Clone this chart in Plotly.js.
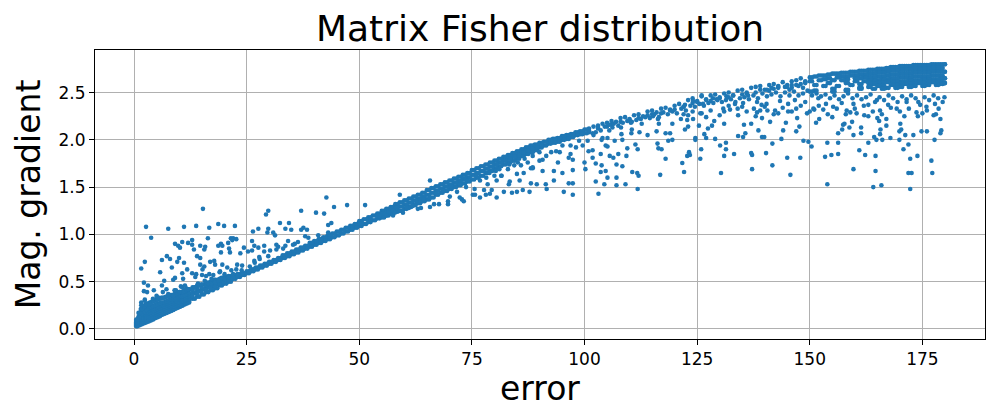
<!DOCTYPE html>
<html>
<head>
<meta charset="utf-8">
<script src="https://cdn.plot.ly/plotly-3.0.1.min.js"></script>
<style>html,body{margin:0;padding:0;background:#fff}</style>
</head>
<body>
<div id="chart" style="width:1000px;height:420px"></div>
<script>
// dense foot of the curve, columns read at half degree steps
const footX = [0.5,1,1.5,2,2.5,3,3.5,4,4.5,5,5.5,6,6.5,7,7.5,8,8.5,9,9.5,10,10.5,11,11.5,12];
const footXb = [0.75,1.25,1.75,2.25,2.75,3.25,3.75,4.25,4.75,5.25,5.75,6.25,6.75,7.25,7.75,8.25,8.75,9.25,9.75,10.25,10.75,11.25,11.75,12.25];
const footLow = [.03,.04,.05,.06,.07,.08,.09,.10,.115,.125,.135,.15,.16,.17,.18,.19,.20,.215,.225,.235,.245,.26,.27,.28];
const footE = [.04,.055,.065,.08,.09,.10,.11,.12,.135,.15,.16,.17,.18,.19,.20,.21,.22,.235,.245,.255,.265,.275,.285,.295];
const footA = [.05,.07,.08,.10,.11,.12,.13,.14,.155,.17,.18,.19,.20,.21,.22,.23,.24,.25,.26,.27,.28,.29,.30,.31];
const footG = [.06,.085,.10,.12,.13,.145,.155,.165,.18,.19,.20,.21,.22,.23,.24,.25,.26,.27,.28,.29,.295,.305,.315,.325];
const footB = [.07,.10,.12,.14,.15,.17,.18,.19,.20,.21,.22,.23,.24,.25,.26,.27,.28,.29,.30,.31,.31,.32,.33,.34];
const footF = [.08,.115,.14,.16,.175,.195,.205,.215,.225,.235,.245,.255,.26,.27,.28,.29,.30,.31,.32,.33,.33,.34,.35,.36];
const footC = [.09,.13,.16,.18,.20,.22,.23,.24,.25,.26,.27,.28,.28,.29,.30,.31,.32,.33,.34,.35,.35,.36,.37,.38];
const footTop = [.10,.17,.21,.24,.26,.27,.28,.29,.30,.31,.32,.33,.33,.34,.35,.36,.36,.37,.38,.39,.39,.40,.41,.42];

// main ridge, one column per degree from 13 to 149
const ridgeX = [13,14,15,16,17,18,19,20,21,22,23,24,25,26,27,28,29,30,31,32,33,34,35,36,37,38,39,40,41,42,43,44,45,46,47,48,49,50,
  51,52,53,54,55,56,57,58,59,60,61,62,63,64,65,66,67,68,69,70,71,72,73,74,75,76,77,78,79,80,81,82,83,84,85,86,87,88,89,90,
  91,92,93,94,95,96,97,98,99,100,101,102,103,104,105,106,107,108,109,110,111,112,113,114,115,116,117,118,119,120,
  121,122,123,124,125,126,127,128,129,130,131,132,133,134,135,136,137,138,139,140,141,142,143,144,145,146,147,148,149];
const ridgeTop = [.44,.46,.47,.49,.50,.52,.53,.55,.56,.57,.58,.59,.61,.63,.65,.67,.69,.71,.73,.75,.78,.80,.82,.84,.86,.88,.91,.93,.95,.97,.99,1.01,1.03,1.05,1.07,1.09,1.11,1.14,
  1.16,1.18,1.20,1.22,1.25,1.27,1.29,1.32,1.34,1.36,1.38,1.40,1.42,1.44,1.47,1.49,1.51,1.53,1.55,1.57,1.59,1.61,1.63,1.65,1.68,1.70,1.72,1.74,1.76,1.78,1.80,1.82,1.84,1.86,1.88,1.90,1.92,1.94,1.95,1.97,
  1.98,2.00,2.01,2.02,2.04,2.05,2.06,2.08,2.09,2.11,2.12,2.14,2.15,2.17,2.18,2.20,2.19,2.23,2.24,2.22,2.26,2.27,2.25,2.30,2.31,2.29,2.33,2.34,2.32,2.36,
  2.38,2.35,2.42,2.44,2.41,2.46,2.43,2.47,2.48,2.45,2.49,2.50,2.47,2.52,2.53,2.50,2.55,2.56,2.57,2.53,2.58,2.59,2.56,2.61,2.58,2.62,2.63,2.65,2.62];
const ridgeLow = [.32,.34,.365,.39,.41,.43,.46,.48,.50,.53,.55,.57,.59,.61,.63,.65,.67,.69,.71,.73,.75,.77,.79,.81,.83,.85,.87,.89,.91,.93,.95,.97,.99,1.01,1.03,1.05,1.07,1.09,
  1.11,1.13,1.15,1.17,1.18,1.20,1.22,1.24,1.25,1.27,1.29,1.31,1.33,1.35,1.37,1.39,1.42,1.44,1.46,1.48,1.50,1.52,1.54,1.56,1.58,1.60,1.62,1.65,1.67,1.70,1.72,1.74,1.76,1.78,1.80,1.83,1.85,1.87,1.89,1.92,
  1.94,1.96,1.97,1.98,2.00,2.01,2.03,2.05,2.06,2.07,2.08,null,2.12,null,2.14,2.16,null,2.19,null,2.21,null,2.23,null,2.26,2.27,null,2.28,null,2.31,2.32,
  null,2.35,null,2.39,2.40,null,2.42,2.41,null,2.44,null,2.45,2.47,null,2.48,2.49,null,2.50,2.53,null,2.52,2.54,2.55,null,2.56,2.55,2.58,2.59,2.61];
// half degree columns for the solid part of the ridge, 13.5 to 100.5
const ridgeXb = [13.5,14.5,15.5,16.5,17.5,18.5,19.5,20.5,21.5,22.5,23.5,24.5,25.5,26.5,27.5,28.5,29.5,30.5,31.5,32.5,33.5,34.5,35.5,36.5,37.5,38.5,39.5,40.5,41.5,42.5,43.5,44.5,45.5,46.5,47.5,48.5,49.5,50.5,
  51.5,52.5,53.5,54.5,55.5,56.5,57.5,58.5,59.5,60.5,61.5,62.5,63.5,64.5,65.5,66.5,67.5,68.5,69.5,70.5,71.5,72.5,73.5,74.5,75.5,76.5,77.5,78.5,79.5,80.5,81.5,82.5,83.5,84.5,85.5,86.5,87.5,88.5,89.5,90.5,
  91.5,92.5,93.5,94.5,95.5,96.5,97.5,98.5,99.5,100.5];
const midX = [13,14,15,16,17,18,19,20,21,22,23,24,50,52,54,55,56,57,58,59,60,61,62,63,64,65,66,67,68,69,70,71,72,73,74,75,76,77,78,79,80,81,82,83,84,85,86,87,88,89,90];
const midXb = [13.5,14.5,15.5,16.5,17.5,18.5,19.5,20.5,21.5,22.5,23.5,24.5,50.5,52.5,54.5,55.5,56.5,57.5,58.5,59.5,60.5,61.5,62.5,63.5,64.5,65.5,66.5,67.5,68.5,69.5,70.5,71.5,72.5,73.5,74.5,75.5,76.5,77.5,78.5,79.5,80.5,81.5,82.5,83.5,84.5,85.5,86.5,87.5,88.5,89.5,90.5];
const midY = [.38,.40,.42,.44,.455,.475,.495,.515,.53,.55,.565,.58,1.115,1.155,1.195,1.215,1.235,1.255,1.28,1.295,1.315,1.335,1.355,1.375,1.395,1.42,1.44,1.465,1.485,1.505,1.525,1.545,1.565,1.585,1.605,1.63,1.65,1.67,1.695,1.715,1.74,1.76,1.78,1.80,1.82,1.84,1.865,1.885,1.905,1.92,1.945];
const shoulderX = [13,14,15,16,17,18,19,20,21,22,23,24];
const shoulderLow = [.35,.37,.39,.415,.43,.45,.475,.495,.515,.54,.555,.575];
const shoulderHigh = [.41,.43,.445,.465,.48,.50,.51,.53,.545,.56,.57,.585];

// solid block at the far end, rows from top to bottom, patchy where it starts
const blockX = [150,151,152,153,154,155,156,157,158,159,160,161,162,163,164,165,166,167,168,169,170,171,172,173,174,175,176,177,178,179,180];
const blockXb = [150.5,151.5,152.5,153.5,154.5,155.5,156.5,157.5,158.5,159.5,160.5,161.5,162.5,163.5,164.5,165.5,166.5,167.5,168.5,169.5,170.5,171.5,172.5,173.5,174.5,175.5,176.5,177.5,178.5,179.5,180];
const blockR1 = [2.66,2.67,2.68,2.68,2.69,2.70,2.70,2.71,2.71,2.72,2.72,2.73,2.73,2.74,2.74,2.75,2.75,2.76,2.77,2.77,2.78,2.78,2.78,2.79,2.79,2.79,2.79,2.80,2.80,2.80,2.80];
const blockR2 = [2.62,null,null,2.64,2.65,null,2.66,2.67,2.67,2.68,2.68,2.69,2.69,2.70,2.70,2.71,2.71,2.72,2.73,2.73,2.74,2.74,2.74,2.75,2.75,2.75,2.75,2.76,2.76,2.76,null];
const blockR3 = [null,null,2.63,null,null,2.63,null,2.63,2.64,null,2.65,2.65,2.66,2.66,2.66,2.67,2.67,2.68,2.69,2.69,2.70,2.70,2.70,2.71,2.71,2.71,2.71,2.72,2.72,2.72,2.72];
const blockR4 = [null,2.58,null,null,2.60,null,null,null,2.60,null,2.62,null,2.62,2.63,2.63,2.63,2.64,2.64,2.65,2.65,2.66,2.66,2.66,2.67,2.67,2.67,2.67,2.68,2.68,2.68,null];
const blockR5 = [null,null,null,2.57,null,null,2.57,null,null,2.58,null,2.59,null,2.60,2.59,2.60,2.60,2.61,2.61,2.62,2.62,2.62,2.63,2.63,2.63,2.64,2.64,2.64,2.64,2.65,2.65];
const blockR6 = [null,2.52,null,null,null,2.54,null,null,2.53,null,null,2.55,null,2.56,null,2.57,2.57,null,2.58,2.58,2.59,2.59,2.59,2.60,2.60,2.60,2.61,2.61,2.61,2.61,null];
const blockR7 = [2.51,null,null,null,null,2.51,null,null,2.52,null,null,2.54,null,null,2.54,null,2.54,2.55,null,2.55,2.56,null,2.56,2.57,null,2.57,2.58,null,2.58,2.59,2.60];

// single scattered points away from the band
const looseX = [2.67,3.8,7.6,11.1,13.8,15.3,16.7,18.7,20,22.4,1.6,2.4,2.2,3.1,2.2,2.9,4.4,2.4,1.6,6.2,7.3,8,5.8,8.4,6.7,6.2,10,9.6,11.1,9.1,9.8,10.2,10.7,12,12.9,12.9,13.3,14.7,15.8,15.6,16.4,14,14.7,16.9,17.8,18,19.3,18.7,19.3,19.6,20.9,21.1,21.3,21.5,22,22.7,21.8,23.6,24.4,19.6,20.7,22.9,24,14.7,15.6,15.2,16.7,17.6,19.1,10.7,11.8,12.9,13.8,9.1,8.7,10.9,13.6,15.1,16,9.3,10.7,11.6,12.9,14.2,16.2,17.8,
  26.2,26.4,27.6,29.3,29.8,29.8,29.6,30.9,31.3,32.4,34.4,33.6,34.9,37.1,37.1,37.6,38.4,40.4,42.2,42.7,44.4,47.3,51.3,43.1,43.8,26.7,27.6,28.9,26.2,25.3,27.8,26.7,28.9,30.2,31.6,32,34.2,35.3,36.4,38,33.6,
  65.7,59,69.7,69.7,72.3,72.8,73.2,70.1,71.7,67.7,66.6,65.7,63.7,63,61,59.7,57.5,75.2,75.7,76.8,78.1,79,80.5,77.7,79.4,82.1,83.9,85,86.3,87.8,91.6,95.4,97.4,103.1,111.8,91.4,89.4,88.1,85.6,83.4,83.2,80.5,78.5,93.2,96.5,97.4,102.5,104.4,107.1,109.1,105.1,107.1,116.8,112,110.6,111.7,103.6,104.7,100.2,97.4,95.1,93.2,90.7,88.1,86.5,85,83,81.6,80.3,100,101.8,102.5,103.8,107.1,108.4,109.3,105.6,107.5,106.4,118,111.8,109.5,111.3,103.6,101.8,100.9,96.9,96.5,97.4,94.5,94.1,90.7,88.5,104.7,105.1,106.7,108.4,103.8,116.2,116.4,117.1,118.6,119.5,114,116,112.2,110.4,108.2,104,105.1,101.8,116.5,118,119,119.5,115.2,116.3,112.7,110.5,106.2,103.6,
  56,57.9,59,60.5,61.9,63,64.2,65.6,67.1,68.6,70.4,72.3,73.7,74.1,75.6,76.8,78.2,80,81.5,84.4,85.9,87.4,88.5,90,91.5,92.6,93.7,90,88.5,86.7,85.2,83.3,81.1,78.9,76,95.1,96.9,98.1,98.8,99.6,100.7,102.5,105.5,108.1,110.3,
  121.7,122.1,122.8,123.2,123.4,125.7,125.9,124.6,124.6,127,126.6,129,130.1,131.4,131.4,131,133.2,130.3,137,137.2,137.2,140.3,141.7,141.7,145,147.9,145.7,134.1,135.2,135.7,138.6,139.4,139.9,143.7,144.1,147,147.7,148.6,149.7,150.4,153.4,154.8,156.3,153.9,156.3,153.9,159.7,161,162.3,164.6,164.6,164.1,165.9,163,170.8,171.9,172.3,173.9,171.9,172.6,172.3,177,177.2,177.7,179,179.2,174.8,176,173,169.9,167.9,166.1,164.8,164.3,165.6,165.7,161.4,161.4,159.7,156.3,157.2,157.4,158.8,169.9,170.3,171.2,170.1,167,165,165.4,162.1,159.4,157.7,151.4,152.1,153,147.2,149.4,145.2,144.7,141.2,139.4,137,135.4,134.1,131,128.8,128.3,127.4,125.4,125.7,122.3,123,124.1,122.8,121.4,
  122.3,124.1,126.3,126,128.6,129.3,131.4,130.8,132.3,133.4,135.2,136.3,137.6,138.3,138.3,139.3,140.6,140.4,142.3,143.4,145.2,146.7,149,150.8,151.9,153.6,155.2,157.1,158.2,159.7,160.4,163,164.9,165.6,167.4,169.3,171.5,173.7,174.1,175.9,177.8,177.5,178.6,179.9];
const looseY = [1.08,.965,1.06,1.08,1.09,1.27,1.07,1.11,1.09,1.09,.64,.71,.49,.46,.40,.39,.41,.31,.28,.73,.77,.74,.60,.65,.51,.46,.75,.71,.70,.90,.88,.86,.92,.91,.94,.89,.84,.88,.87,.84,.96,.77,.75,.71,.72,.68,.81,.88,.90,.88,.91,.85,.81,.96,.96,.95,.94,.80,.86,.68,.65,.68,.67,.68,.66,.63,.58,.57,.61,.59,.63,.59,.58,.54,.52,.53,.55,.57,.56,.41,.44,.43,.42,.48,.48,.52,
  .93,1.03,1.06,1.21,1.25,1.06,1.02,1.02,.99,1.12,1.12,1.06,1.05,1.25,1.05,1.07,1.05,1.23,1.22,1.39,1.29,1.31,1.31,1.10,1.12,.88,.86,.88,.83,.82,.76,.72,.82,.83,.89,.87,.93,.89,.92,.98,.88,
  1.57,1.42,1.32,1.35,1.39,1.37,1.35,1.40,1.45,1.32,1.32,1.29,1.28,1.27,1.28,1.23,1.20,1.42,1.42,1.39,1.42,1.43,1.39,1.47,1.47,1.45,1.44,1.45,1.47,1.45,1.48,1.45,1.42,1.43,1.48,1.53,1.53,1.54,1.57,1.56,1.53,1.57,1.53,1.57,1.54,1.54,1.56,1.53,1.52,1.53,1.60,1.60,1.63,1.62,1.66,1.65,1.66,1.67,1.69,1.68,1.65,1.67,1.67,1.70,1.65,1.64,1.69,1.62,1.67,1.76,1.81,1.75,1.73,1.74,1.72,1.83,1.83,1.85,1.81,1.80,1.90,1.91,1.95,1.85,1.89,1.88,1.85,1.81,1.79,1.87,1.76,1.79,1.70,1.94,1.93,1.99,2.0,2.0,1.96,1.91,1.90,1.99,2.0,2.05,2.09,2.08,2.07,2.06,2.02,2.02,2.07,2.17,2.07,2.07,2.17,2.25,2.22,2.17,2.11,2.13,2.10,
  1.20,1.23,1.25,1.285,1.30,1.34,1.37,1.39,1.43,1.46,1.51,1.53,1.50,1.57,1.48,1.57,1.60,1.62,1.62,1.73,1.73,1.76,1.71,1.78,1.83,1.87,1.88,1.87,1.83,1.80,1.76,1.74,1.69,1.65,1.62,1.94,1.94,1.92,1.99,1.94,1.99,2.08,2.10,2.13,2.18,
  1.755,1.66,1.83,1.87,1.84,1.80,1.90,2.02,2.0,2.02,2.06,2.01,1.94,1.97,1.90,1.83,1.85,1.65,1.86,1.84,1.69,1.86,1.73,1.96,1.81,1.81,1.63,2.04,2.03,2.07,2.10,2.03,2.03,2.01,2.10,2.09,2.14,1.99,1.98,1.93,1.82,1.84,1.85,1.97,1.97,1.53,1.69,1.89,1.84,1.83,1.67,1.50,1.52,1.97,1.90,1.95,1.80,1.83,1.65,1.65,1.48,1.78,1.65,2.0,2.07,2.10,2.09,2.09,2.05,2.0,2.02,2.0,2.0,2.03,2.06,2.11,2.07,2.13,2.05,2.07,2.11,2.16,2.13,2.09,2.11,2.05,2.17,2.15,2.23,2.2,2.26,2.19,2.17,2.18,2.22,2.32,2.23,2.28,2.30,2.18,2.19,2.23,2.17,2.16,2.26,2.17,2.20,2.15,2.12,2.15,2.28,2.11,2.14,2.22,2.21,2.22,
  2.37,2.41,2.38,2.47,2.39,2.43,2.42,2.33,2.32,2.38,2.39,2.47,2.33,2.40,2.29,2.37,2.31,2.38,2.31,2.41,2.38,2.42,2.40,2.33,2.44,2.38,2.35,2.39,2.31,2.38,2.28,2.37,2.42,2.31,2.37,2.33,2.40,2.29,2.40,2.35,2.38,2.26,2.33,2.45];

// points hugging the band on its upper side at the start, and its lower side further on
const nearX = [5,6.4,7.6,9,10.4,11.3,12,13.5,15,16.4,18,19.4,18.7,20.9,22,22.7,23.9,25.7,26.8,27.9,29.8,31.6,33.1,35.7,38.7,40.9,43.1,1.6,2.4,3.5,4.2,5.3,7.2,8.7,10.1,15.7,17.2,19,20.1,21.6,
  101,102,103,104.5,105.5,106.5,107.5,108.5,109.5,110.5,111.5,112.5,113.5,114.5,115.5,116.5,117.5,118.5,119.5,120.5,121.5,122.5,123.5,124.5,125.5,126.5,127.5,128.5,129.5,130.5,131.5,132.5,133.5,134.5,135.5,136.5,137.5,138.5,139.5,140.5,141.5,142.5,143.5,144.5,145.5,146.5,147.5,148.5,149.5,
  150.5,151.5,152.5,153.5,154.5,155.5,156.5,157.5,158.5,159.5,160.5,161.5,162.5,163.5,164.5,165.5,166.5,167.5,168.5,169.5,170.5,171.5,172.5,173.5,174.5,175.5,176.5,177.5,178.5,179.5,
  122,124,126,128,130,132,134,136,138,140,142,144,146,148,150,152,154,156,158,160,162,164,166,168,170,172,174,176,178,179,123,127,131,135,139,143,147,151,155,159,163,167,171,175,
  140.5,141.5,143,144.5,146,147.5,149,148.5,145.5];
const nearY = [.35,.39,.37,.41,.45,.46,.42,.44,.47,.48,.49,.54,.51,.55,.58,.63,.62,.66,.70,.74,.77,.84,.85,.90,.965,.99,1.02,.25,.30,.265,.32,.335,.42,.35,.39,.51,.53,.60,.58,.62,
  2.10,2.05,2.13,2.14,2.16,2.17,2.15,2.18,2.20,2.19,2.21,2.22,2.24,2.23,2.27,2.24,2.29,2.27,2.30,2.28,2.33,2.31,2.36,2.35,2.38,2.36,2.39,2.44,2.42,2.40,2.46,2.43,2.40,2.44,2.45,2.43,2.47,2.44,2.49,2.46,2.48,2.50,2.46,2.50,2.47,2.51,2.47,2.49,2.52,
  2.47,2.49,2.46,2.48,2.44,2.47,2.43,2.46,2.49,2.44,2.47,2.43,2.45,2.48,2.40,2.45,2.42,2.47,2.44,2.40,2.46,2.43,2.47,2.44,2.37,2.45,2.42,2.47,2.44,2.40,
  2.27,2.30,2.28,2.31,2.26,2.36,2.33,2.30,2.25,2.35,2.27,2.34,2.30,2.36,2.30,2.36,2.27,2.33,2.27,2.33,2.36,2.30,2.27,2.34,2.30,2.33,2.25,2.31,2.27,2.22,2.26,2.24,2.30,2.35,2.31,2.28,2.33,2.32,2.24,2.29,2.25,2.22,2.25,2.28,
  2.53,2.55,2.57,2.56,2.58,2.57,2.60,2.55,2.53];

const xTickVals = [0,25,50,75,100,125,150,175];
const yTickVals = [0,0.5,1,1.5,2,2.5];
const yTickText = ['0.0','0.5','1.0','1.5','2.0','2.5'];

const footRows = [footLow,footE,footA,footG,footB,footF,footC,footTop];
const blockRows = [blockR1,blockR2,blockR3,blockR4,blockR5,blockR6,blockR7];
let xs = [], ys = [];
function addPoints(px, py) {
  xs = xs.concat(px);
  ys = ys.concat(py.slice(0, px.length));
}
footRows.forEach(row => { addPoints(footX, row); addPoints(footXb, row); });
addPoints(ridgeX, ridgeTop);
addPoints(ridgeX, ridgeLow);
addPoints(ridgeXb, ridgeTop);
addPoints(ridgeXb, ridgeLow);
addPoints(midX, midY);
addPoints(midXb, midY);
addPoints(shoulderX, shoulderLow);
addPoints(shoulderX, shoulderHigh);
blockRows.forEach(row => { addPoints(blockX, row); addPoints(blockXb, row); });
addPoints(looseX, looseY);
addPoints(nearX, nearY);

const axisBase = {
  showline: true, mirror: true, linecolor: '#000', linewidth: 1,
  ticks: 'outside', ticklen: 5, tickcolor: '#000', tickwidth: 1,
  showgrid: true, gridcolor: '#b0b0b0', gridwidth: 1, zeroline: false,
  tickfont: {family: 'DejaVu Sans', size: 17, color: '#000'}
};

Plotly.newPlot('chart', [{
  type: 'scatter', mode: 'markers', x: xs, y: ys,
  marker: {color: '#1f77b4', size: 4.6, line: {width: 0}},
  hoverinfo: 'skip'
}], {
  width: 1000, height: 420,
  margin: {l: 95, r: 15, t: 50, b: 81},
  paper_bgcolor: '#fff', plot_bgcolor: '#fff',
  showlegend: false,
  font: {family: 'DejaVu Sans', color: '#000'},
  title: {text: 'Matrix Fisher distribution', font: {size: 36, family: 'DejaVu Sans', color: '#000'}, x: 0.54, xref: 'container', xanchor: 'center', y: 0.962, yanchor: 'top'},
  xaxis: Object.assign({}, axisBase, {range: [-8.66, 188.9], tickvals: xTickVals, title: {text: 'error', font: {size: 33, family: 'DejaVu Sans', color: '#000'}, standoff: 4}}),
  yaxis: Object.assign({}, axisBase, {range: [-0.106, 2.95], tickvals: yTickVals, ticktext: yTickText, title: {text: 'Mag. gradient', font: {size: 33, family: 'DejaVu Sans', color: '#000'}, standoff: 8}})
}, {displayModeBar: false, staticPlot: true});
</script>
</body>
</html>
